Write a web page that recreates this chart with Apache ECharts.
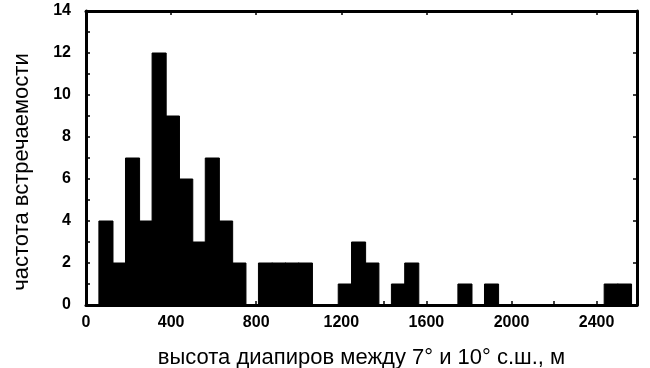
<!DOCTYPE html>
<html>
<head>
<meta charset="utf-8">
<script src="https://cdn.jsdelivr.net/npm/echarts@6/dist/echarts.min.js"></script>
<style>html,body{margin:0;padding:0;background:#fff}#c{width:650px;height:368px}</style>
</head>
<body>
<div id="c"></div>
<script>
// Histogram bins (lower / upper edges, m) and counts
var binLow = [62.5,125,187.5,250,312.5,375,437.5,500,562.5,625,687.5,750,812.5,875,937.5,1000,1062.5,1125,1187.5,1250,1312.5,1375,1437.5,1500,1562.5,1625,1687.5,1750,1812.5,1875,1937.5,2000,2062.5,2125,2187.5,2250,2312.5,2375,2437.5,2500];
var binHigh = [125,187.5,250,312.5,375,437.5,500,562.5,625,687.5,750,812.5,875,937.5,1000,1062.5,1125,1187.5,1250,1312.5,1375,1437.5,1500,1562.5,1625,1687.5,1750,1812.5,1875,1937.5,2000,2062.5,2125,2187.5,2250,2312.5,2375,2437.5,2500,2562.5];
var counts = [4,2,7,4,12,9,6,3,7,4,2,0,2,2,2,2,0,0,1,3,2,0,1,2,0,0,0,1,0,1,0,0,0,0,0,0,0,0,1,1];
var xTicks = [0,400,800,1200,1600,2000,2400];
var yTicks = [0,2,4,6,8,10,12,14];
var xTitle = 'высота диапиров между 7° и 10° с.ш., м';
var yTitle = 'частота встречаемости';

var data = binLow.map(function(lo,i){return [lo, binHigh[i], counts[i]];});
var chart = echarts.init(document.getElementById('c'));
var FF = 'Liberation Sans, Arial, sans-serif';
var lineSt = {color:'#000', width:3};
var tickSt = {color:'#000', width:1.5};
chart.setOption({
  animation:false,
  grid:{left:86, right:13, top:11, bottom:63, outerBoundsMode:'none', containLabel:false},
  xAxis:[{
    type:'value', min:0, max:2590, interval:400, position:'bottom',
    axisLine:{show:true, onZero:false, lineStyle:lineSt},
    axisTick:{show:true, inside:true, length:4, lineStyle:tickSt},
    minorTick:{show:true, splitNumber:2, length:4, lineStyle:tickSt},
    axisLabel:{margin:10, formatter:function(v){return xTicks.indexOf(v)>=0? String(v):'';}, color:'#000', fontSize:16, fontWeight:'bold', fontFamily:FF, showMaxLabel:false},
    splitLine:{show:false},
    name:xTitle, nameLocation:'middle', nameGap:42,
    nameTextStyle:{color:'#000', fontSize:22, fontFamily:FF}
  },{
    type:'value', min:0, max:2590, interval:400, position:'top',
    axisLine:{show:true, onZero:false, lineStyle:lineSt},
    axisTick:{show:true, inside:true, length:4, lineStyle:tickSt},
    axisLabel:{show:false}, splitLine:{show:false}
  }],
  yAxis:[{
    type:'value', min:0, max:14, interval:2, position:'left',
    axisLine:{show:true, onZero:false, lineStyle:lineSt},
    axisTick:{show:true, inside:true, length:4, lineStyle:tickSt},
    minorTick:{show:true, splitNumber:2, length:4, lineStyle:tickSt},
    axisLabel:{margin:15, formatter:function(v){return yTicks.indexOf(v)>=0? String(v):'';}, color:'#000', fontSize:16, fontWeight:'bold', fontFamily:FF},
    splitLine:{show:false}
  },{
    type:'value', min:0, max:14, interval:2, position:'right',
    axisLine:{show:true, onZero:false, lineStyle:lineSt},
    axisTick:{show:true, inside:true, length:4, lineStyle:tickSt},
    axisLabel:{show:false}, splitLine:{show:false}
  }],
  graphic:[{
    type:'text', x:22, y:172, rotation:Math.PI/2,
    style:{text:yTitle, fill:'#000', font:'22px ' + FF, textAlign:'center', textVerticalAlign:'middle'}
  }],
  series:[{
    type:'custom', xAxisIndex:0, yAxisIndex:0,
    encode:{x:[0,1], y:2},
    data:data,
    renderItem:function(params, api){
      var v = api.value(2);
      if(!v) return null;
      var p0 = api.coord([api.value(0), v]);
      var p1 = api.coord([api.value(1), 0]);
      return {type:'rect', shape:{x:p0[0]-0.4, y:p0[1], width:p1[0]-p0[0]+0.8, height:p1[1]-p0[1]},
        style:{fill:'#000', stroke:'#000', lineWidth:1}};
    }
  }]
});
</script>
</body>
</html>
